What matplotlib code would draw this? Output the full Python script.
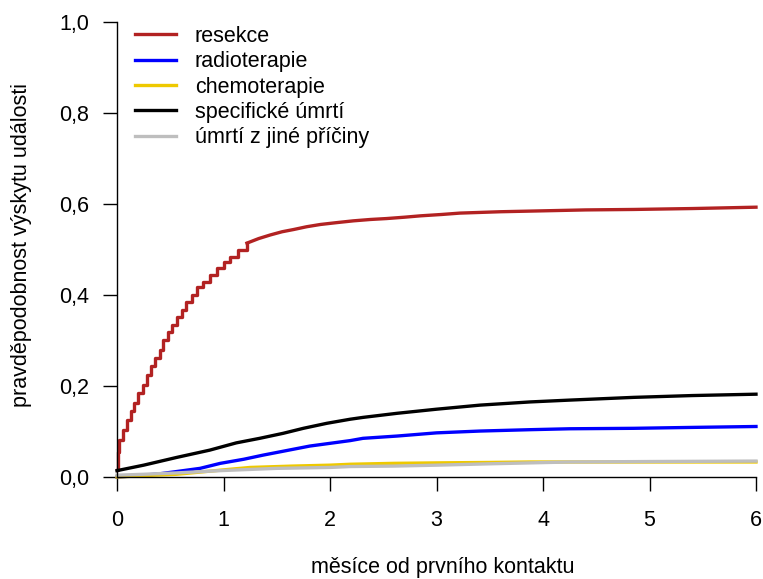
import matplotlib
matplotlib.use("Agg")
import matplotlib.pyplot as plt

plt.rcParams['font.family'] = ['Liberation Sans', 'DejaVu Sans']

# months since first contact / cumulative incidence
t_res = [0.0, 0.005, 0.02, 0.06, 0.09, 0.13, 0.16, 0.20, 0.24, 0.28, 0.32, 0.36,
         0.40, 0.43, 0.48, 0.52, 0.56, 0.61, 0.65, 0.70, 0.75, 0.81, 0.87, 0.94,
         1.00, 1.06, 1.14, 1.22, 1.33, 1.44, 1.55, 1.66, 1.78, 1.91, 2.06, 2.22,
         2.38, 2.53, 2.70, 2.85, 3.05, 3.22, 3.60, 4.00, 4.40, 4.85, 5.40, 6.00]
y_res = [0.015, 0.056, 0.081, 0.103, 0.125, 0.144, 0.162, 0.184, 0.202, 0.224,
         0.243, 0.261, 0.279, 0.301, 0.319, 0.334, 0.352, 0.367, 0.385, 0.400,
         0.418, 0.429, 0.444, 0.459, 0.473, 0.484, 0.499, 0.514, 0.524, 0.532,
         0.539, 0.544, 0.550, 0.555, 0.559, 0.563, 0.566, 0.568, 0.571, 0.574,
         0.577, 0.580, 0.583, 0.585, 0.587, 0.588, 0.590, 0.593]

t_rad = [0.0, 0.20, 0.40, 0.56, 0.78, 0.97, 1.19, 1.37, 1.59, 1.81, 2.00, 2.19,
         2.31, 2.63, 3.00, 3.41, 3.88, 4.25, 4.85, 5.40, 6.00]
y_rad = [0.0, 0.003, 0.007, 0.012, 0.019, 0.030, 0.039, 0.048, 0.058, 0.068,
         0.074, 0.080, 0.085, 0.090, 0.097, 0.101, 0.104, 0.106, 0.107, 0.109, 0.111]

t_chem = [0.0, 0.25, 0.56, 0.97, 1.25, 1.65, 2.00, 2.19, 2.60, 3.00, 3.50, 3.88,
          4.50, 5.20, 6.00]
y_chem = [0.0, 0.003, 0.006, 0.015, 0.021, 0.024, 0.026, 0.028, 0.030, 0.031,
          0.032, 0.033, 0.033, 0.033, 0.033]

t_spec = [0.0, 0.25, 0.56, 0.87, 1.12, 1.34, 1.56, 1.75, 1.97, 2.19, 2.31, 2.63,
          3.00, 3.41, 3.88, 4.25, 4.85, 5.40, 6.00]
y_spec = [0.014, 0.026, 0.043, 0.059, 0.075, 0.085, 0.096, 0.107, 0.118, 0.127,
          0.131, 0.140, 0.149, 0.158, 0.165, 0.169, 0.175, 0.179, 0.182]

t_other = [0.0, 0.25, 0.56, 0.97, 1.50, 2.00, 2.19, 2.60, 3.00, 3.50, 4.25, 5.00, 6.00]
y_other = [0.004, 0.006, 0.009, 0.014, 0.019, 0.021, 0.023, 0.024, 0.026, 0.029,
           0.033, 0.034, 0.035]

labels = ['resekce', 'radioterapie', 'chemoterapie', 'specifické úmrtí',
          'úmrtí z jiné příčiny']
colors = ['#B22222', '#0000FF', '#EEC900', '#000000', '#BEBEBE']

FS = 15.5
LW = 2.4

fig = plt.figure(figsize=(7.63, 5.79), dpi=100)
ax = fig.add_axes([117 / 763, 1 - 477 / 579, 639 / 763, 455 / 579])

# resection: visible staircase in the steep part, fine steps (drawn as line) after
k = 28
ax.step(t_res[:k], y_res[:k], where='post', color=colors[0], lw=LW,
        label=labels[0], clip_on=False)
ax.plot(t_res[k - 1:], y_res[k - 1:], color=colors[0], lw=LW, clip_on=False)

series = [(t_rad, y_rad), (t_chem, y_chem), (t_spec, y_spec), (t_other, y_other)]
for (t, y), lab, col in zip(series, labels[1:], colors[1:]):
    ax.plot(t, y, color=col, lw=LW, label=lab, clip_on=False)

ax.set_xlim(0, 6)
ax.set_ylim(0, 1)
ax.set_xticks(range(7))
ax.set_yticks([0, 0.2, 0.4, 0.6, 0.8, 1.0])
ax.set_yticklabels(['0,0', '0,2', '0,4', '0,6', '0,8', '1,0'])
for s in ['top', 'right']:
    ax.spines[s].set_visible(False)
for s in ['left', 'bottom']:
    ax.spines[s].set_linewidth(1.0)
ax.tick_params(axis='both', length=10, width=1.0, labelsize=FS, direction='out')
ax.tick_params(axis='x', pad=14)
ax.tick_params(axis='y', pad=10)

fig.text(443 / 763, 1 - 568 / 579, 'měsíce od prvního kontaktu', fontsize=FS,
         ha='center', va='center')
fig.text(22 / 763, 1 - 245 / 579, 'pravděpodobnost výskytu události', fontsize=FS,
         ha='center', va='center', rotation=90)

ax.legend(loc='upper left', bbox_to_anchor=(135 / 763, 1 - 26 / 579),
          bbox_transform=fig.transFigure, frameon=False, fontsize=FS,
          handlelength=1.9, handletextpad=0.88, labelspacing=0.2,
          borderpad=0, borderaxespad=0)

fig.savefig('out.png', dpi=100)
